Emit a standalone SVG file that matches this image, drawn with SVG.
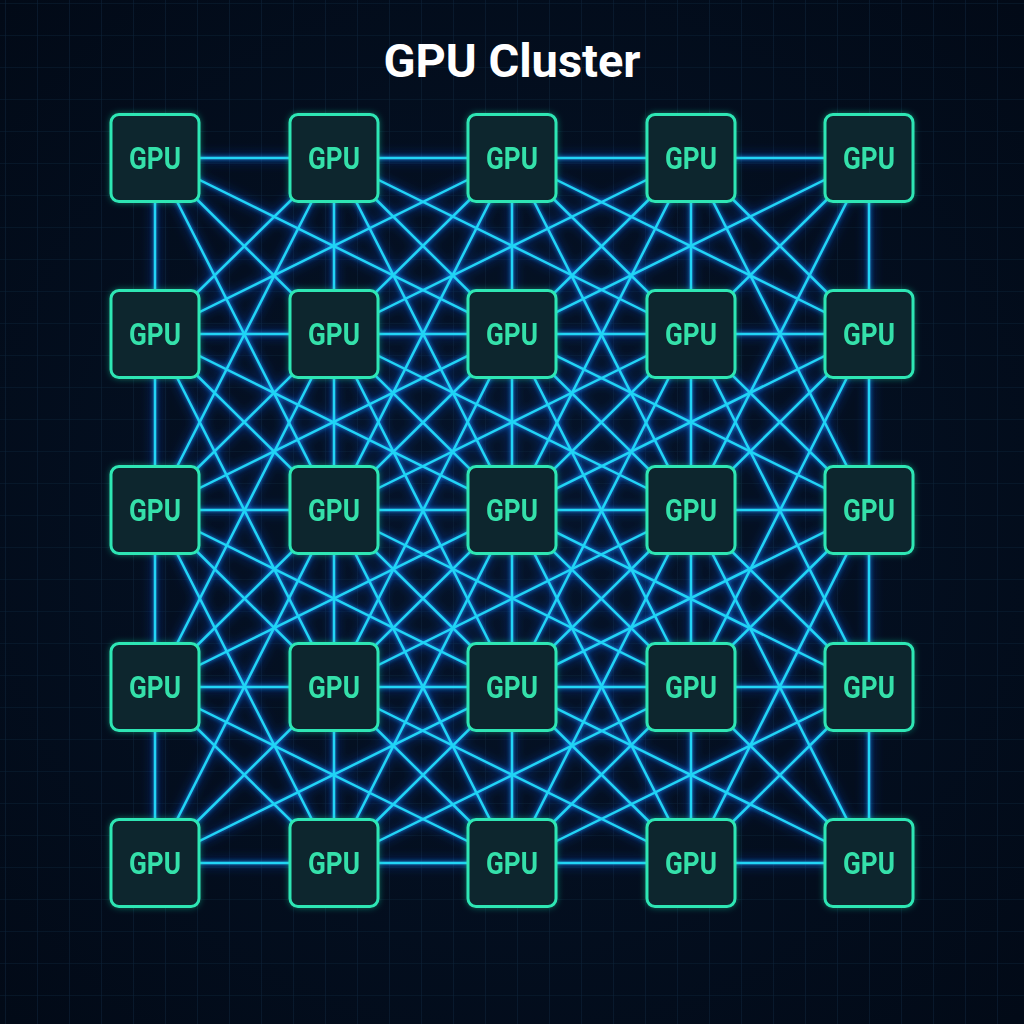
<svg xmlns="http://www.w3.org/2000/svg" width="1024" height="1024" viewBox="0 0 1024 1024">
<defs>
<style>
.title{font-family:Roboto,"Liberation Sans",sans-serif;font-weight:700;font-size:47px;fill:#ffffff;text-anchor:middle}
.conn line{stroke:#20d4f6;stroke-width:2.5;stroke-linecap:round}
.node rect{fill:#09262d;stroke:#2de6b4;stroke-width:3}
.node text{font-family:Roboto,"Liberation Sans",sans-serif;font-weight:700;font-size:31px;fill:#35e0aa;text-anchor:middle}
</style>
<radialGradient id="bg" cx="50%" cy="50%" r="70%">
<stop offset="0" stop-color="#051429"/>
<stop offset="1" stop-color="#020a17"/>
</radialGradient>
<pattern id="grid" patternUnits="userSpaceOnUse" x="5" y="3" width="32" height="32">
<path d="M0 0H32M0 0V32" stroke="#0c2136" stroke-width="1.2" fill="none"/>
</pattern>
<filter id="glow" x="-5%" y="-5%" width="110%" height="110%">
<feGaussianBlur in="SourceAlpha" stdDeviation="6" result="b"/>
<feFlood flood-color="#1a5cff" flood-opacity="0.9"/>
<feComposite in2="b" operator="in" result="g"/>
<feGaussianBlur in="SourceAlpha" stdDeviation="2" result="b2"/>
<feFlood flood-color="#1a8cff" flood-opacity="0.9"/>
<feComposite in2="b2" operator="in" result="g2"/>
<feMerge><feMergeNode in="g"/><feMergeNode in="g2"/><feMergeNode in="SourceGraphic"/></feMerge>
</filter>
<filter id="nglow" x="-20%" y="-20%" width="140%" height="140%">
<feGaussianBlur in="SourceAlpha" stdDeviation="3" result="b"/>
<feFlood flood-color="#20d8a8" flood-opacity="0.45"/>
<feComposite in2="b" operator="in" result="g"/>
<feMerge><feMergeNode in="g"/><feMergeNode in="SourceGraphic"/></feMerge>
</filter>
</defs>
<rect width="1024" height="1024" fill="url(#bg)"/>
<rect width="1024" height="1024" fill="url(#grid)"/>
<text class="title" x="512" y="77">GPU Cluster</text>
<g id="connectors" class="conn" filter="url(#glow)">
<line x1="155" y1="158" x2="869" y2="158"/>
<line x1="155" y1="334" x2="869" y2="334"/>
<line x1="155" y1="510" x2="869" y2="510"/>
<line x1="155" y1="687" x2="869" y2="687"/>
<line x1="155" y1="863" x2="869" y2="863"/>
<line x1="155" y1="158" x2="155" y2="863"/>
<line x1="334" y1="158" x2="334" y2="863"/>
<line x1="512" y1="158" x2="512" y2="863"/>
<line x1="691" y1="158" x2="691" y2="863"/>
<line x1="869" y1="158" x2="869" y2="863"/>
<line x1="155" y1="158" x2="869" y2="863"/>
<line x1="334" y1="158" x2="869" y2="687"/>
<line x1="512" y1="158" x2="869" y2="510"/>
<line x1="691" y1="158" x2="869" y2="334"/>
<line x1="155" y1="334" x2="691" y2="863"/>
<line x1="155" y1="510" x2="512" y2="863"/>
<line x1="155" y1="687" x2="334" y2="863"/>
<line x1="869" y1="158" x2="155" y2="863"/>
<line x1="691" y1="158" x2="155" y2="687"/>
<line x1="512" y1="158" x2="155" y2="510"/>
<line x1="334" y1="158" x2="155" y2="334"/>
<line x1="869" y1="334" x2="334" y2="863"/>
<line x1="869" y1="510" x2="512" y2="863"/>
<line x1="869" y1="687" x2="691" y2="863"/>
<line x1="155" y1="158" x2="869" y2="510"/>
<line x1="155" y1="334" x2="869" y2="687"/>
<line x1="155" y1="510" x2="869" y2="863"/>
<line x1="155" y1="687" x2="512" y2="863"/>
<line x1="512" y1="158" x2="869" y2="334"/>
<line x1="334" y1="158" x2="691" y2="334"/>
<line x1="334" y1="334" x2="691" y2="510"/>
<line x1="334" y1="510" x2="691" y2="687"/>
<line x1="334" y1="687" x2="691" y2="863"/>
<line x1="869" y1="158" x2="155" y2="510"/>
<line x1="869" y1="334" x2="155" y2="687"/>
<line x1="869" y1="510" x2="155" y2="863"/>
<line x1="869" y1="687" x2="512" y2="863"/>
<line x1="512" y1="158" x2="155" y2="334"/>
<line x1="691" y1="158" x2="334" y2="334"/>
<line x1="691" y1="334" x2="334" y2="510"/>
<line x1="691" y1="510" x2="334" y2="687"/>
<line x1="691" y1="687" x2="334" y2="863"/>
<line x1="155" y1="158" x2="512" y2="863"/>
<line x1="334" y1="158" x2="691" y2="863"/>
<line x1="512" y1="158" x2="869" y2="863"/>
<line x1="691" y1="158" x2="869" y2="510"/>
<line x1="155" y1="510" x2="334" y2="863"/>
<line x1="155" y1="334" x2="334" y2="687"/>
<line x1="334" y1="334" x2="512" y2="687"/>
<line x1="512" y1="334" x2="691" y2="687"/>
<line x1="691" y1="334" x2="869" y2="687"/>
<line x1="869" y1="158" x2="512" y2="863"/>
<line x1="691" y1="158" x2="334" y2="863"/>
<line x1="512" y1="158" x2="155" y2="863"/>
<line x1="334" y1="158" x2="155" y2="510"/>
<line x1="869" y1="510" x2="691" y2="863"/>
<line x1="869" y1="334" x2="691" y2="687"/>
<line x1="691" y1="334" x2="512" y2="687"/>
<line x1="512" y1="334" x2="334" y2="687"/>
<line x1="334" y1="334" x2="155" y2="687"/>
</g>
<g id="nodes">
<g id="gpu-0-0" class="node" filter="url(#nglow)"><rect x="111" y="114.5" width="88" height="87" rx="8"/><text x="155" y="169" textLength="52" lengthAdjust="spacingAndGlyphs">GPU</text></g>
<g id="gpu-0-1" class="node" filter="url(#nglow)"><rect x="290" y="114.5" width="88" height="87" rx="8"/><text x="334" y="169" textLength="52" lengthAdjust="spacingAndGlyphs">GPU</text></g>
<g id="gpu-0-2" class="node" filter="url(#nglow)"><rect x="468" y="114.5" width="88" height="87" rx="8"/><text x="512" y="169" textLength="52" lengthAdjust="spacingAndGlyphs">GPU</text></g>
<g id="gpu-0-3" class="node" filter="url(#nglow)"><rect x="647" y="114.5" width="88" height="87" rx="8"/><text x="691" y="169" textLength="52" lengthAdjust="spacingAndGlyphs">GPU</text></g>
<g id="gpu-0-4" class="node" filter="url(#nglow)"><rect x="825" y="114.5" width="88" height="87" rx="8"/><text x="869" y="169" textLength="52" lengthAdjust="spacingAndGlyphs">GPU</text></g>
<g id="gpu-1-0" class="node" filter="url(#nglow)"><rect x="111" y="290.5" width="88" height="87" rx="8"/><text x="155" y="345" textLength="52" lengthAdjust="spacingAndGlyphs">GPU</text></g>
<g id="gpu-1-1" class="node" filter="url(#nglow)"><rect x="290" y="290.5" width="88" height="87" rx="8"/><text x="334" y="345" textLength="52" lengthAdjust="spacingAndGlyphs">GPU</text></g>
<g id="gpu-1-2" class="node" filter="url(#nglow)"><rect x="468" y="290.5" width="88" height="87" rx="8"/><text x="512" y="345" textLength="52" lengthAdjust="spacingAndGlyphs">GPU</text></g>
<g id="gpu-1-3" class="node" filter="url(#nglow)"><rect x="647" y="290.5" width="88" height="87" rx="8"/><text x="691" y="345" textLength="52" lengthAdjust="spacingAndGlyphs">GPU</text></g>
<g id="gpu-1-4" class="node" filter="url(#nglow)"><rect x="825" y="290.5" width="88" height="87" rx="8"/><text x="869" y="345" textLength="52" lengthAdjust="spacingAndGlyphs">GPU</text></g>
<g id="gpu-2-0" class="node" filter="url(#nglow)"><rect x="111" y="466.5" width="88" height="87" rx="8"/><text x="155" y="521" textLength="52" lengthAdjust="spacingAndGlyphs">GPU</text></g>
<g id="gpu-2-1" class="node" filter="url(#nglow)"><rect x="290" y="466.5" width="88" height="87" rx="8"/><text x="334" y="521" textLength="52" lengthAdjust="spacingAndGlyphs">GPU</text></g>
<g id="gpu-2-2" class="node" filter="url(#nglow)"><rect x="468" y="466.5" width="88" height="87" rx="8"/><text x="512" y="521" textLength="52" lengthAdjust="spacingAndGlyphs">GPU</text></g>
<g id="gpu-2-3" class="node" filter="url(#nglow)"><rect x="647" y="466.5" width="88" height="87" rx="8"/><text x="691" y="521" textLength="52" lengthAdjust="spacingAndGlyphs">GPU</text></g>
<g id="gpu-2-4" class="node" filter="url(#nglow)"><rect x="825" y="466.5" width="88" height="87" rx="8"/><text x="869" y="521" textLength="52" lengthAdjust="spacingAndGlyphs">GPU</text></g>
<g id="gpu-3-0" class="node" filter="url(#nglow)"><rect x="111" y="643.5" width="88" height="87" rx="8"/><text x="155" y="698" textLength="52" lengthAdjust="spacingAndGlyphs">GPU</text></g>
<g id="gpu-3-1" class="node" filter="url(#nglow)"><rect x="290" y="643.5" width="88" height="87" rx="8"/><text x="334" y="698" textLength="52" lengthAdjust="spacingAndGlyphs">GPU</text></g>
<g id="gpu-3-2" class="node" filter="url(#nglow)"><rect x="468" y="643.5" width="88" height="87" rx="8"/><text x="512" y="698" textLength="52" lengthAdjust="spacingAndGlyphs">GPU</text></g>
<g id="gpu-3-3" class="node" filter="url(#nglow)"><rect x="647" y="643.5" width="88" height="87" rx="8"/><text x="691" y="698" textLength="52" lengthAdjust="spacingAndGlyphs">GPU</text></g>
<g id="gpu-3-4" class="node" filter="url(#nglow)"><rect x="825" y="643.5" width="88" height="87" rx="8"/><text x="869" y="698" textLength="52" lengthAdjust="spacingAndGlyphs">GPU</text></g>
<g id="gpu-4-0" class="node" filter="url(#nglow)"><rect x="111" y="819.5" width="88" height="87" rx="8"/><text x="155" y="874" textLength="52" lengthAdjust="spacingAndGlyphs">GPU</text></g>
<g id="gpu-4-1" class="node" filter="url(#nglow)"><rect x="290" y="819.5" width="88" height="87" rx="8"/><text x="334" y="874" textLength="52" lengthAdjust="spacingAndGlyphs">GPU</text></g>
<g id="gpu-4-2" class="node" filter="url(#nglow)"><rect x="468" y="819.5" width="88" height="87" rx="8"/><text x="512" y="874" textLength="52" lengthAdjust="spacingAndGlyphs">GPU</text></g>
<g id="gpu-4-3" class="node" filter="url(#nglow)"><rect x="647" y="819.5" width="88" height="87" rx="8"/><text x="691" y="874" textLength="52" lengthAdjust="spacingAndGlyphs">GPU</text></g>
<g id="gpu-4-4" class="node" filter="url(#nglow)"><rect x="825" y="819.5" width="88" height="87" rx="8"/><text x="869" y="874" textLength="52" lengthAdjust="spacingAndGlyphs">GPU</text></g>
</g>
</svg>
